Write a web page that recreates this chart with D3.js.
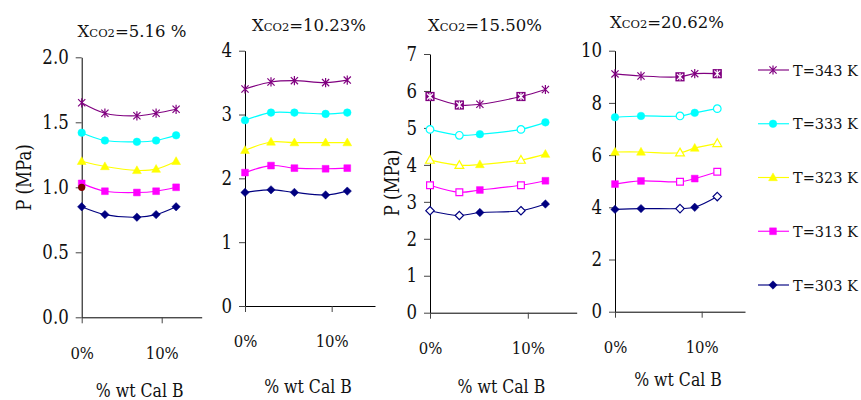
<!DOCTYPE html>
<html>
<head>
<meta charset="utf-8">
<script src="https://cdn.jsdelivr.net/npm/d3@7"></script>
<style>
  body { margin: 0; background: white; }
  svg { display: block; }
</style>
</head>
<body>
<div id="container"></div>
<script>
// data
const titles = ["5.16 %", "10.23%", "15.50%", "20.62%"];
const calB = [            // % wt Cal B, one row per panel
  [0, 2.9, 6.9, 9.3, 11.8],
  [0, 3.0, 5.7, 9.3, 11.8],
  [0, 3.0, 5.1, 9.3, 11.8],
  [0, 3.0, 7.5, 9.2, 11.8]
];
const t343 = [[1.65, 1.57, 1.55, 1.57, 1.60], [3.40, 3.51, 3.53, 3.50, 3.54], [5.85, 5.62, 5.64, 5.85, 6.04], [9.11, 9.03, 9.00, 9.12, 9.12]];
const t333 = [[1.42, 1.36, 1.35, 1.36, 1.40], [2.91, 3.03, 3.03, 3.01, 3.03], [4.96, 4.80, 4.83, 4.96, 5.15], [7.45, 7.50, 7.50, 7.62, 7.78]];
const t323 = [[1.20, 1.16, 1.13, 1.14, 1.20], [2.44, 2.57, 2.56, 2.56, 2.56], [4.13, 3.99, 4.01, 4.13, 4.29], [6.12, 6.12, 6.09, 6.27, 6.45]];
const t313 = [[1.03, 0.97, 0.96, 0.97, 1.00], [2.09, 2.20, 2.16, 2.15, 2.16], [3.45, 3.26, 3.32, 3.45, 3.57], [4.89, 5.01, 4.98, 5.10, 5.36]];
const t303 = [[0.85, 0.79, 0.77, 0.79, 0.85], [1.78, 1.82, 1.78, 1.74, 1.80], [2.76, 2.63, 2.71, 2.76, 2.94], [3.92, 3.95, 3.95, 4.00, 4.41]];
const openPoints = [[], [], [0, 1, 3], [2, 4]];   // points drawn hollow / boxed
const extraPoint = [0, 1.00];                      // lone dark red dot, first panel
const yMax = [2, 4, 7, 10];
const yStep = [0.5, 1, 1, 2];
const xTicks = [0, 10];
const legendLabels = ["T=343 K", "T=333 K", "T=323 K", "T=313 K", "T=303 K"];

const series = [
  {vals: t343, color: "#800080", shape: "star"},
  {vals: t333, color: "#00FFFF", shape: "circle"},
  {vals: t323, color: "#FFFF00", shape: "triangle"},
  {vals: t313, color: "#FF00FF", shape: "square"},
  {vals: t303, color: "#000080", shape: "diamond"}
];

const FONT = "DejaVu Serif";
const NARROW = 0.85;   // DejaVu Serif is wider than the Times face of the original

// squeeze text horizontally so it takes the width Times would
function narrow(sel) {
  sel.each(function() {
    let len = this.getComputedTextLength();
    d3.select(this).attr("textLength", len * NARROW).attr("lengthAdjust", "spacingAndGlyphs");
  });
}

let w = 861, h = 400;
let viz = d3.select("#container").append("svg")
    .attr("width", w)
    .attr("height", h)
    .attr("font-family", FONT);

// where each panel sits
const boxes = [
  {x0: 81.7, x1: 201.7, top: 57.3, bot: 317.3, tx: 132, ty: 36.5},
  {x0: 245, x1: 375, top: 50.7, bot: 306, tx: 309, ty: 30.7},
  {x0: 430, x1: 576.7, top: 54, bot: 312.7, tx: 485, ty: 30.7},
  {x0: 615, x1: 745, top: 50.7, bot: 311.7, tx: 667, ty: 28.3}
];

const shapes = {
  diamond: "M0,-4.2L4.2,0L0,4.2L-4.2,0Z",
  square: "M-3.4,-3.4h6.8v6.8h-6.8Z",
  triangle: "M0,-4.6L4.4,3.2L-4.4,3.2Z",
  star: "M-3.6,-3.6L3.6,3.6M-3.6,3.6L3.6,-3.6M0,-4.6V4.6"
};

function marker(g, s, x, y, open) {
  let m = g.append("g").attr("transform", "translate(" + x + "," + y + ")");
  if (s.shape == "star") {
    if (open) {
      m.append("rect").attr("x", -4.6).attr("y", -4.6).attr("width", 9.2).attr("height", 9.2)
        .attr("fill", s.color);
      m.append("path").attr("d", "M-3,-3L3,3M-3,3L3,-3M0,-3.8V3.8")
        .attr("stroke", "white").attr("stroke-width", 1.2);
    } else {
      m.append("path").attr("d", shapes.star).attr("stroke", s.color).attr("stroke-width", 1.2).attr("fill", "none");
    }
    return;
  }
  let el = s.shape == "circle"
    ? m.append("circle").attr("r", 3.8)
    : m.append("path").attr("d", shapes[s.shape]);
  el.attr("fill", open ? "white" : s.color)
    .attr("stroke", s.color)
    .attr("stroke-width", open ? 1.2 : 0.5);
}

boxes.forEach(function(b, p) {
  let x = d3.scaleLinear().domain([0, 15]).range([b.x0, b.x1]);
  let y = d3.scaleLinear().domain([0, yMax[p]]).range([b.bot, b.top]);
  let g = viz.append("g");

  let yTicks = d3.range(0, yMax[p] + 1e-9, yStep[p]);
  let yAxis = g.append("g")
      .attr("transform", "translate(" + b.x0 + ",0)")
      .call(d3.axisLeft(y).tickValues(yTicks).tickSize(6).tickSizeOuter(0).tickPadding(7)
        .tickFormat(p == 0 ? d3.format(".1f") : d3.format("d")));
  let xAxis = g.append("g")
      .attr("transform", "translate(0," + b.bot + ")")
      .call(d3.axisBottom(x).tickValues(xTicks).tickSize(6).tickSizeOuter(0).tickPadding(23)
        .tickFormat(d => d + "%"));
  yAxis.attr("font-family", FONT).selectAll("text").attr("font-size", 19.5).attr("fill", "#111").call(narrow);
  xAxis.attr("font-family", FONT).selectAll("text").attr("font-size", 17.5).attr("fill", "#111").call(narrow);
  g.selectAll(".domain").attr("stroke", "black");
  g.selectAll(".tick line").attr("stroke", "#444");

  // title
  let t = g.append("text").attr("x", b.tx).attr("y", b.ty)
      .attr("text-anchor", "middle").attr("font-size", 16.5).attr("fill", "#111");
  t.append("tspan").text("X");
  t.append("tspan").attr("font-size", 11.5).text("CO2");
  t.append("tspan").text("=" + titles[p]);

  g.append("text")
      .attr("x", (b.x0 + b.x1) / 2 - 2).attr("y", p == 3 ? 386 : (p == 0 ? 397 : 393))
      .attr("text-anchor", "middle").attr("font-size", 18.5).attr("fill", "#111")
      .text("% wt Cal B")
      .call(narrow);

  let line = d3.line()
      .x((d, i) => x(calB[p][i]))
      .y(d => y(d))
      .curve(d3.curveCatmullRom.alpha(0.5));

  series.forEach(function(s) {
    let vals = s.vals[p];
    g.append("path").attr("d", line(vals))
      .attr("fill", "none").attr("stroke", s.color).attr("stroke-width", 1.15);
  });
  series.slice().reverse().forEach(function(s) {
    s.vals[p].forEach(function(v, i) {
      marker(g, s, x(calB[p][i]), y(v), openPoints[p].indexOf(i) >= 0);
    });
  });

  if (p == 0) {
    g.append("circle").attr("cx", x(extraPoint[0])).attr("cy", y(extraPoint[1]))
      .attr("r", 3.6).attr("fill", "#800000");
  }
});

// y axis titles
[[24, 177.5], [392, 183]].forEach(function(pos) {
  viz.append("text")
    .attr("transform", "translate(" + pos[0] + "," + pos[1] + ") rotate(-90)")
    .attr("text-anchor", "middle").attr("dominant-baseline", "central")
    .attr("font-size", 19.5).attr("fill", "#111")
    .text("P (MPa)")
    .call(narrow);
});

// legend
let legY = d3.scalePoint().domain(legendLabels).range([70, 285]);
legendLabels.forEach(function(lab, i) {
  let s = series[i];
  let yy = legY(lab);
  viz.append("line").attr("x1", 758).attr("x2", 789).attr("y1", yy).attr("y2", yy)
    .attr("stroke", s.color).attr("stroke-width", 1.15);
  marker(viz, s, 773, yy, false);
  viz.append("text").attr("x", 793).attr("y", yy + 5.5)
    .attr("font-size", 14.5).attr("fill", "#111").text(lab);
});
</script>
</body>
</html>
